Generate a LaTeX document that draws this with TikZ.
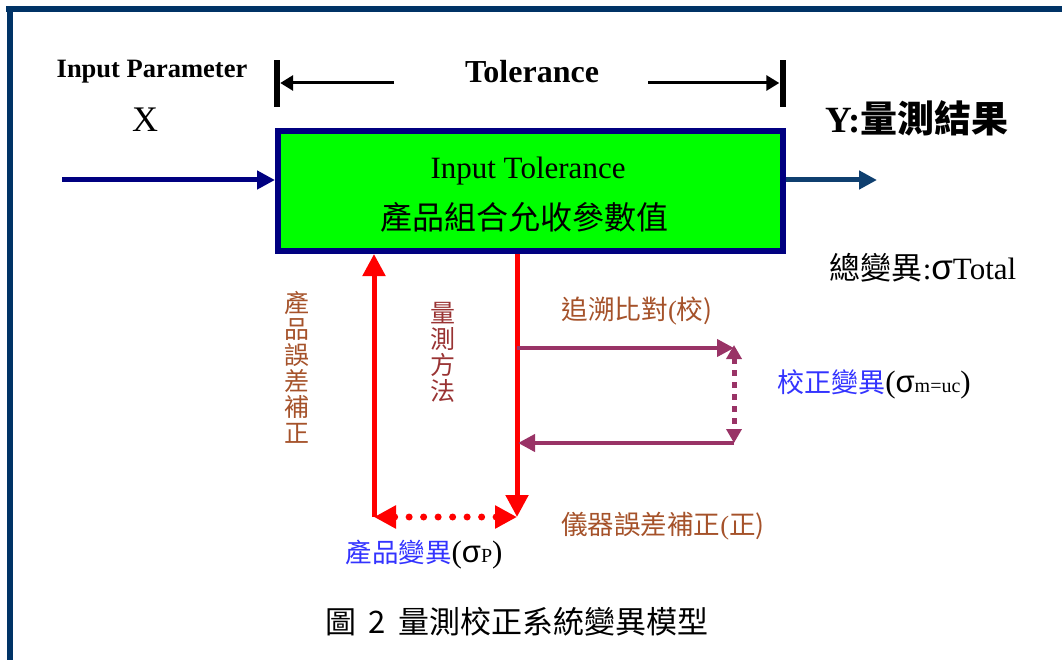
\documentclass[tikz,border=0pt]{standalone}
\usepackage{fontspec}
\setmainfont{Liberation Serif}
\newfontfamily\cjk{Noto Sans CJK TC}
\newfontfamily\sgm{Liberation Sans}
\usetikzlibrary{arrows.meta}
\definecolor{navy}{HTML}{000080}
\definecolor{frameblue}{HTML}{003366}
\definecolor{outblue}{HTML}{0F3F6F}
\definecolor{boxgreen}{HTML}{00FF00}
\definecolor{purp}{HTML}{993366}
\definecolor{brn}{HTML}{A5522A}
\definecolor{mrn}{HTML}{993333}
\definecolor{lblue}{HTML}{3333FF}
\newcommand{\fs}[1]{\fontsize{#1}{#1}\selectfont}
\tikzset{
  redtip/.tip={Triangle[length=22pt,width=22pt]},
  purptip/.tip={Triangle[length=14pt,width=15pt]},
  lbl/.style={inner sep=0pt, anchor=center},
  bar/.style={fill=black, minimum width=6pt, minimum height=47pt, inner sep=0pt},
  tolarrow/.style={line width=3pt, -{Triangle[length=13pt,width=15pt]}},
  redarrow/.style={red, line width=5pt},
  purparrow/.style={purp, line width=4pt, -{Triangle[length=17pt,width=17pt]}},
  vtext/.style={lbl, align=center, font=\cjk\fontsize{25}{26}\selectfont},
}
\begin{document}
\begin{tikzpicture}[x=1pt,y=-1pt]
\useasboundingbox (0,0) rectangle (1062,660);
% frame
\fill[frameblue] (6,6) rectangle (1062,12);
\fill[frameblue] (7,6) rectangle (13,660);

% main box
\node[draw=navy, line width=6pt, fill=boxgreen, minimum width=505pt, minimum height=120pt, inner sep=0pt] (box) at (530.5,191) {};
\node[lbl, font=\fs{31}] (t1) at (528,171) {Input Tolerance};
\node[lbl, font=\cjk\fs{32}] (t2) at (524,217) {產品組合允收參數值};

% top labels
\node[lbl, font=\bfseries\fs{26.5}] (ip) at (152,72) {Input Parameter};
\node[lbl, font=\fs{36}] (x) at (145,120) {X};
\node[lbl, font=\bfseries\fs{32}] (tol) at (532,72) {Tolerance};
\node[bar] (barL) at (277,83.5) {};
\node[bar] (barR) at (782.5,83.5) {};
\coordinate (tolL) at (394,83);
\coordinate (tolR) at (648,83);
\draw[tolarrow] (tolL) -- (barL.east |- tolL);
\draw[tolarrow] (tolR) -- (barR.west |- tolR);

% output label
\node[lbl, font=\bfseries\fs{37}] (y) at (917,118) {Y:{\cjk 量測結果}};
\node[lbl, font=\fs{31}] (tot) at (923,268) {{\cjk 總變異}:{\sgm\fs{35}σ}Total};

% input / output arrows
\coordinate (inS) at (62,180);
\coordinate (outE) at (877,180);
\draw[navy, line width=5pt, -{Triangle[length=18pt,width=18pt]}] (inS) -- (inS -| box.west);
\draw[outblue, line width=5pt, -{Triangle[length=18pt,width=18pt]}] (outE -| box.east) -- (outE);

% red arrows
\coordinate (pL) at (374,517);
\coordinate (pR) at (517,517);
\coordinate (bL) at (374,254);
\coordinate (bR) at (517,254);
\draw[redarrow, -redtip] (pL) -- (bL);
\draw[redarrow, -redtip] (bR) -- (pR);
\draw[red, line width=7pt, line cap=round, dash pattern=on 0pt off 14.5pt, redtip-redtip] (pL) -- (pR);

% purple arrows
\coordinate (s1) at (517,348);
\coordinate (c1) at (734,348);
\coordinate (c2) at (734,443);
\coordinate (s2) at (518,443);
\draw[purparrow] (s1) -- (c1);
\draw[purparrow] (c2) -- (s2);
\draw[purp, line width=5pt, dash pattern=on 6pt off 6pt, purptip-purptip] ([yshift=3pt]c1) -- (c2);

% labels
\node[vtext, text=brn] (v1) at (297,367) {產\\品\\誤\\差\\補\\正};
\node[vtext, text=mrn] (v2) at (443,352) {量\\測\\方\\法};
\node[lbl, text=brn, font=\fs{26.7}] (l1) at (637,311) {{\cjk 追溯比對}(\cjk 校)};
\node[lbl, text=brn, font=\fs{26.5}] (l2) at (663,526) {{\cjk 儀器誤差補正}(\cjk 正)};
\node[lbl, font=\fs{27}] (l3) at (874,384) {\textcolor{lblue}{\cjk 校正變異}{\fs{31}(}{\sgm\fs{31}σ}{\fs{20}m=uc}{\fs{31})}};
\node[lbl, font=\fs{26.5}] (l4) at (424,555) {\textcolor{lblue}{\cjk 產品變異}{\fs{31}(}{\sgm\fs{31}σ}{\fs{20}P}{\fs{31})}};

% caption
\node[lbl, font=\cjk\fs{31}] (cap) at (517,622) {圖\hspace{12pt}2\hspace{12pt}量測校正系統變異模型};
\end{tikzpicture}
\end{document}
